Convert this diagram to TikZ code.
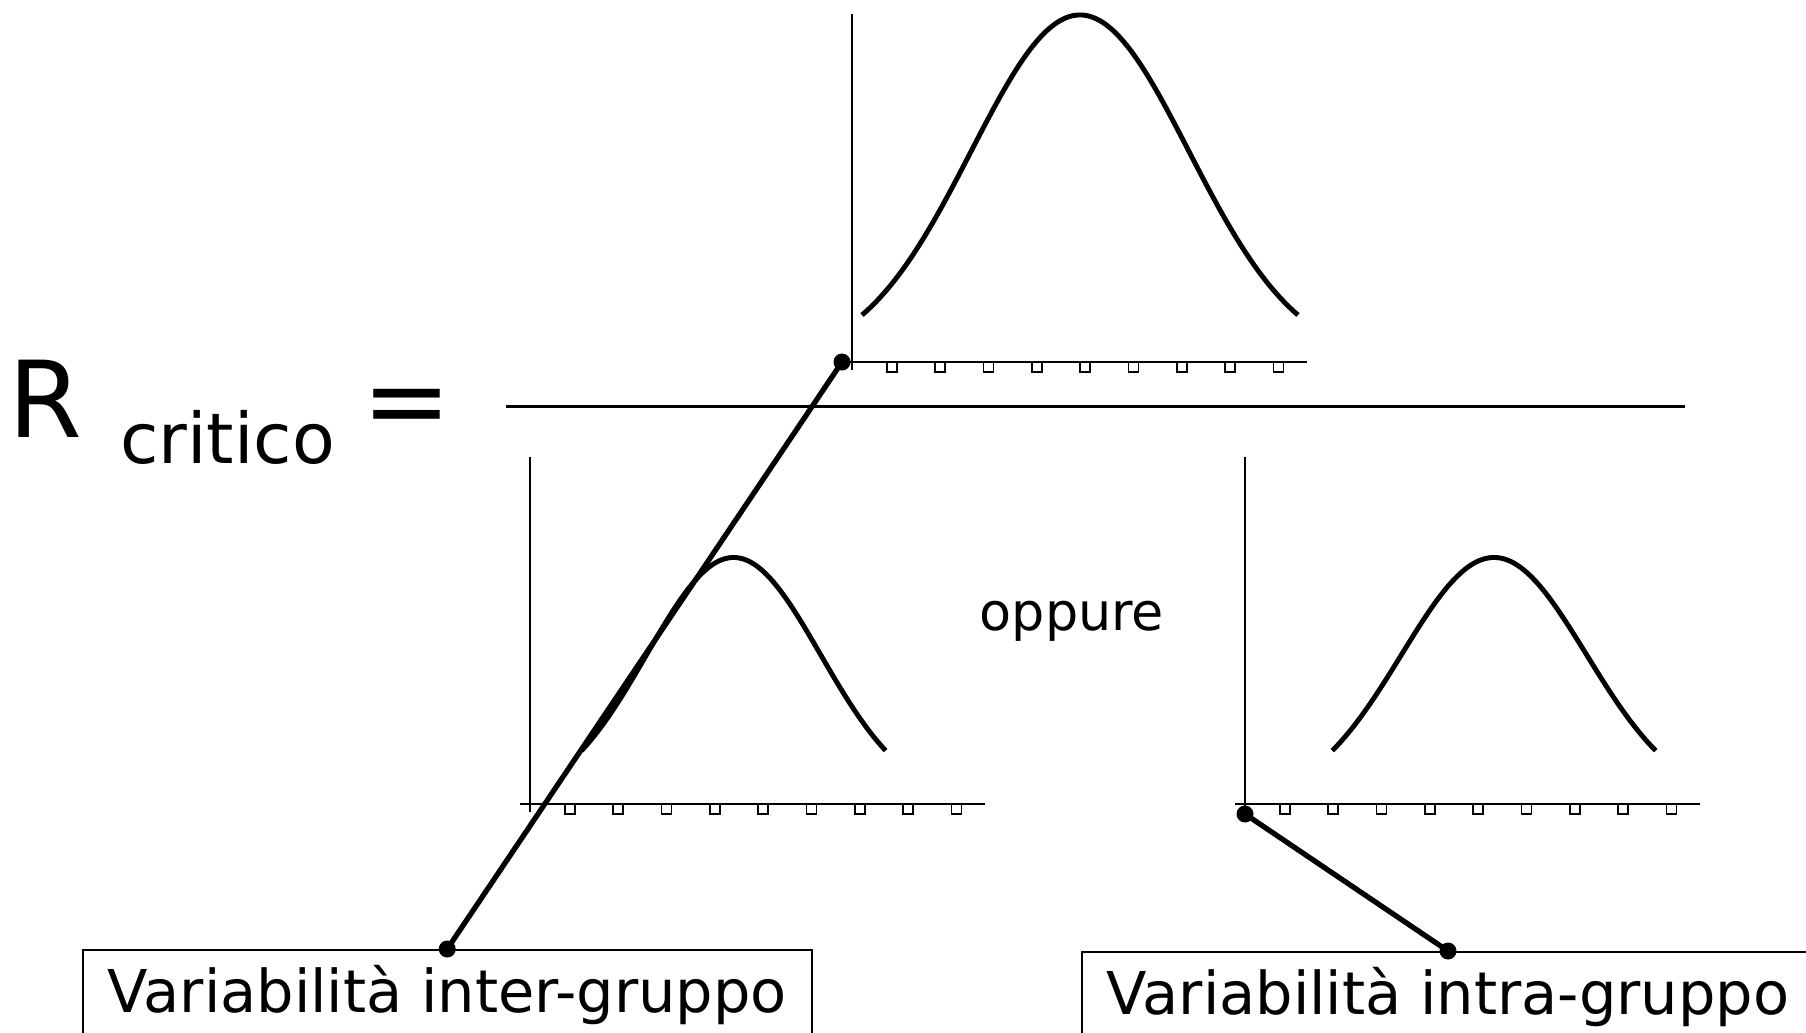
\documentclass[tikz,border=0pt]{standalone}
\usepackage{fontspec}
\setmainfont{DejaVu Sans}
\usetikzlibrary{positioning}

\begin{document}
\begin{tikzpicture}[
  axisline/.style={line width=0.7pt},
  bell/.style={line width=1.4pt, line join=round},
  tickbox/.style={draw, line width=0.5pt, fill=white},
  connector/.style={line width=1.5pt},
  fracline/.style={line width=0.85pt},
  vbox/.style={draw, line width=0.6pt, inner xsep=7.1pt, inner ysep=5.3pt, text height=12.6pt, text depth=4pt, font=\fontsize{16.8}{20}\selectfont},
  formula/.style={inner sep=0pt, anchor=base west}
]
  \useasboundingbox (0,0) rectangle (18.06,10.32);
  \clip (0,0) rectangle (18.06,10.32);

  % formula on the left
  \node[formula, font=\fontsize{30.2}{36}\selectfont] (R) at (0.08,5.947) {R};
  \node[formula, font=\fontsize{19.9}{24}\selectfont] (crit) at (1.195,5.687) {critico};
  \node[formula, font=\fontsize{30.2}{36}\selectfont] (eq) at (3.615,5.947) {=};
  \draw[fracline] (5.056,6.254) -- (16.85,6.254);

  % origins of the three plots
  \coordinate (topO) at (8.52,6.70);
  \coordinate (leftO) at (5.30,2.28);
  \coordinate (rightO) at (12.45,2.28);

  % ticks and axes
  \foreach \o in {topO, leftO, rightO} {
    \foreach \i in {0,...,8}
      \draw[tickbox] ([xshift=3.5mm+4.83mm*\i]\o) rectangle ++(0.10,-0.10);
    \draw[axisline] ([xshift=-1mm]\o) -- ++(4.65,0);
  }
  \draw[axisline] ([yshift=-0.8mm]topO) -- ++(0,3.56);
  \draw[axisline] ([yshift=-0.8mm]leftO) -- ++(0,3.55);
  \draw[axisline] ([yshift=-0.8mm]rightO) -- ++(0,3.55);

  % curves
  \draw[bell] plot[domain=-2:2, samples=80, smooth] ({10.80+1.09*\x}, {6.70+3.47*exp(-\x*\x/2)});
  \draw[bell] plot[domain=-1.75:1.75, samples=80, smooth] ({7.336+0.869*\x}, {2.28+2.465*exp(-\x*\x/2)});
  \draw[bell] plot[domain=-1.75:1.75, samples=80, smooth] ({14.94+0.924*\x}, {2.28+2.465*exp(-\x*\x/2)});

  \node[formula, font=\fontsize{14.9}{18}\selectfont] (oppure) at (9.79,4.02) {oppure};

  % labels
  \node[vbox, anchor=north west] (inter) at (0.817,0.83) {Variabilità inter-gruppo};
  \node[vbox, anchor=north west] (intra) at (10.807,0.81) {Variabilità intra-gruppo};

  % connectors
  \coordinate (topend) at ([xshift=-1mm]topO);
  \coordinate (rightend) at ([yshift=-1mm]rightO);
  \draw[connector] (topend) -- (inter.north);
  \draw[connector] (rightend) -- (intra.north);
  \foreach \p in {topend, inter.north, rightend, intra.north}
    \fill (\p) circle (0.085);
\end{tikzpicture}
\end{document}
